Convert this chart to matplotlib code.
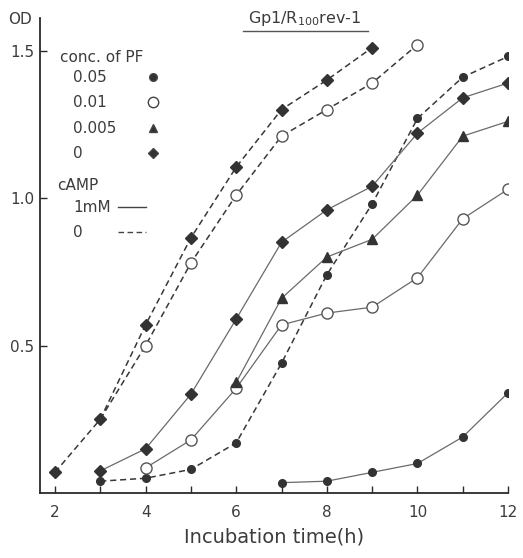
import numpy as np
import matplotlib
matplotlib.use('Agg')
import matplotlib.pyplot as plt
from matplotlib.lines import Line2D

# Datos (OD frente a tiempo de incubacion)
t_d0 = [2, 3, 4, 5, 6, 7, 8, 9]
od_d0 = [0.07, 0.25, 0.57, 0.865, 1.105, 1.30, 1.40, 1.51]          # PF 0, sin cAMP
t_c01_0 = [3, 4, 5, 6, 7, 8, 9, 10]
od_c01_0 = [0.25, 0.50, 0.78, 1.01, 1.21, 1.30, 1.39, 1.52]         # PF 0.01, sin cAMP
t_f05_0 = [3, 4, 5, 6, 7, 8, 9, 10, 11, 12]
od_f05_0 = [0.04, 0.05, 0.08, 0.17, 0.44, 0.74, 0.98, 1.27, 1.41, 1.48]  # PF 0.05, sin cAMP

t_d1 = [3, 4, 5, 6, 7, 8, 9, 10, 11, 12]
od_d1 = [0.075, 0.15, 0.335, 0.59, 0.85, 0.96, 1.04, 1.22, 1.34, 1.39]   # PF 0, cAMP 1mM
t_c01_1 = [4, 5, 6, 7, 8, 9, 10, 11, 12]
od_c01_1 = [0.085, 0.18, 0.355, 0.57, 0.61, 0.63, 0.73, 0.93, 1.03]      # PF 0.01, cAMP 1mM
t_tr_1 = [6, 7, 8, 9, 10, 11, 12]
od_tr_1 = [0.375, 0.66, 0.80, 0.86, 1.01, 1.21, 1.26]                    # PF 0.005, cAMP 1mM
t_f05_1 = [7, 8, 9, 10, 11, 12]
od_f05_1 = [0.035, 0.04, 0.07, 0.10, 0.19, 0.34]                         # PF 0.05, cAMP 1mM

pf_labels = ['0.05', '0.01', '0.005', '0']
camp_labels = ['1mM', '0']

txt = '#3c3c3c'
dash_col = '#383838'
sol_col = '#6a6a6a'
mk = '#333333'
dash = (0, (4, 2.5))

fig = plt.figure(figsize=(5.23, 5.58), dpi=100)
ax = fig.add_axes([0.0765, 0.1165, 0.895, 0.851])

# sin cAMP (discontinua)
# el primer punto de 0.01 queda tapado por el rombo a las 3 h
ax.plot(t_c01_0, od_c01_0, linestyle=dash, color=dash_col, lw=1.1, marker='o',
        ms=8, mfc='white', mec='#555555', mew=1.0, zorder=2,
        markevery=list(range(1, len(t_c01_0))))
ax.plot(t_d0, od_d0, linestyle=dash, color=dash_col, lw=1.1, marker='D',
        ms=6, mfc=mk, mec=mk, zorder=4)
ax.plot(t_f05_0, od_f05_0, linestyle=dash, color=dash_col, lw=1.1, marker='o',
        ms=5.5, mfc=mk, mec=mk, zorder=3)

# cAMP 1mM (continua)
ax.plot(t_d1, od_d1, linestyle='-', color=sol_col, lw=0.9, marker='D',
        ms=6, mfc=mk, mec=mk, zorder=3)
ax.plot(t_c01_1, od_c01_1, linestyle='-', color=sol_col, lw=0.9, marker='o',
        ms=8, mfc='white', mec='#555555', mew=1.0, zorder=3)
ax.plot(t_tr_1, od_tr_1, linestyle='-', color=sol_col, lw=0.9, marker='^',
        ms=6.5, mfc=mk, mec=mk, zorder=3)
ax.plot(t_f05_1, od_f05_1, linestyle='-', color=sol_col, lw=0.9, marker='o',
        ms=5.5, mfc=mk, mec=mk, zorder=3)

ax.set_xlim(1.67, 12)
ax.set_ylim(0, 1.61)
for s in ['top', 'right']:
    ax.spines[s].set_visible(False)
for s in ['left', 'bottom']:
    ax.spines[s].set_color('#2a2a2a')
    ax.spines[s].set_linewidth(1.3)

ax.set_xticks(range(2, 13))
ax.set_xticklabels([str(v) if v % 2 == 0 else '' for v in range(2, 13)])
ax.set_yticks([0.5, 1.0, 1.5])
ax.set_yticklabels(['0.5', '1.0', '1.5'])
ax.tick_params(axis='both', direction='in', length=5, width=1, colors='#2a2a2a',
               labelcolor=txt, labelsize=11)
ax.tick_params(axis='x', pad=9)
ax.tick_params(axis='y', pad=4)

ax.set_xlabel('Incubation time(h)', fontsize=14, color=txt, labelpad=5)
fig.text(20 / 523, 1 - 20 / 558, 'OD', fontsize=11, color=txt, ha='center', va='center')

# titulo subrayado
fig.text(305 / 523, 1 - 18 / 558, r'Gp1/R$_{\rm 100}$rev-1', fontsize=11.5, color=txt,
         ha='center', va='center')
fig.add_artist(Line2D([243 / 523, 368 / 523], [1 - 31 / 558, 1 - 31 / 558],
                      color='#555555', lw=1.0))

# leyenda dibujada a mano
def axpos(px, py):
    return (px - 40) / 468, (493 - py) / 475

x0, y0 = axpos(60, 57)
ax.text(x0, y0, 'conc. of PF', transform=ax.transAxes, fontsize=11, color=txt, va='center')
pf_marks = [('o', mk, 5.5), ('o', 'white', 7.5), ('^', mk, 6), ('D', mk, 5.5)]
pf_y = [77, 102, 128, 153]
for lab, (m, fc, s), py in zip(pf_labels, pf_marks, pf_y):
    lx, ly = axpos(73, py)
    ax.text(lx, ly, lab, transform=ax.transAxes, fontsize=11, color=txt, va='center')
    mx, my = axpos(153, py)
    ax.plot([mx], [my], marker=m, ms=s, mfc=fc, mec='#444444', transform=ax.transAxes,
            clip_on=False)

x0, y0 = axpos(57, 185)
ax.text(x0, y0, 'cAMP', transform=ax.transAxes, fontsize=11, color=txt, va='center')
camp_y = [207, 232]
camp_ls = ['-', dash]
for lab, ls, py in zip(camp_labels, camp_ls, camp_y):
    lx, ly = axpos(73, py)
    ax.text(lx, ly, lab, transform=ax.transAxes, fontsize=11, color=txt, va='center')
    a, _ = axpos(118, py)
    b, _ = axpos(146, py)
    ax.plot([a, b], [ly, ly], linestyle=ls, color='#444444', lw=1.0,
            transform=ax.transAxes, clip_on=False)

fig.savefig('out.png', dpi=100)
